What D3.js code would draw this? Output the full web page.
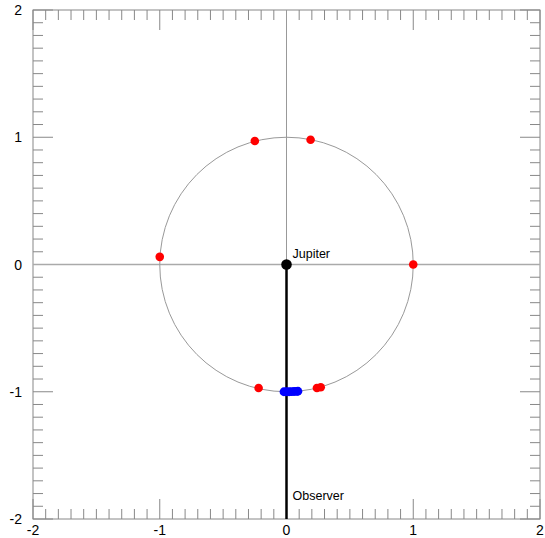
<!DOCTYPE html>
<html>
<head>
<meta charset="utf-8">
<script src="https://cdn.jsdelivr.net/npm/d3@7"></script>
<style>
  body { margin: 0; background: #fff; }
  text { font-family: "Liberation Sans", Arial, sans-serif; }
</style>
</head>
<body>
<div id="chart"></div>
<script>
var Width = 545, Height = 538;
var margin = {top: 10, right: 5, bottom: 19, left: 33},
    width = Width - margin.left - margin.right,
    height = Height - margin.top - margin.bottom;

// data
var tickLabels = [-2, -1, 0, 1, 2];
var moonX = [-0.25, 0.19, -1.0, 1.0, -0.22, 0.24, 0.27];
var moonY = [0.97, 0.98, 0.06, 0.0, -0.97, -0.97, -0.965];
var obsX = [-0.02, 0.0, 0.02, 0.04, 0.06, 0.08, 0.09];
var obsY = [-1.0, -1.0, -1.0, -0.999, -0.998, -0.997, -0.996];
var jupiter = {x: 0, y: 0, name: "Jupiter"};
var observer = {x: 0, y: -2, name: "Observer"};

var svg = d3.select("#chart").append("svg")
    .attr("width", Width).attr("height", Height)
  .append("g")
    .attr("transform", "translate(" + margin.left + "," + margin.top + ")");

var x = d3.scaleLinear().domain([-2, 2]).range([0, width]);
var y = d3.scaleLinear().domain([-2, 2]).range([height, 0]);

// minor ticks every 0.1, major every 1, pointing inward on all four sides
var ticks = d3.range(-20, 21).map(function(i) { return i / 10; });
var isMajor = function(v) { return Math.abs(v - Math.round(v)) < 1e-9; };
var tickLen = function(v) { return isMajor(v) ? 20 : 10; };
var axisColor = "#888";

var t = svg.append("g").attr("stroke", axisColor).attr("stroke-width", 1);
t.selectAll(".tb").data(ticks).enter().append("line")
  .attr("x1", function(d){ return x(d); }).attr("x2", function(d){ return x(d); })
  .attr("y1", height).attr("y2", function(d){ return height - tickLen(d); });
t.selectAll(".tt").data(ticks).enter().append("line")
  .attr("x1", function(d){ return x(d); }).attr("x2", function(d){ return x(d); })
  .attr("y1", 0).attr("y2", function(d){ return tickLen(d); });
t.selectAll(".tl").data(ticks).enter().append("line")
  .attr("y1", function(d){ return y(d); }).attr("y2", function(d){ return y(d); })
  .attr("x1", 0).attr("x2", function(d){ return tickLen(d); });
t.selectAll(".tr").data(ticks).enter().append("line")
  .attr("y1", function(d){ return y(d); }).attr("y2", function(d){ return y(d); })
  .attr("x1", width).attr("x2", function(d){ return width - tickLen(d); });

svg.append("rect").attr("width", width).attr("height", height)
  .attr("fill", "none").attr("stroke", axisColor).attr("stroke-width", 1);

// tick labels
svg.selectAll(".xl").data(tickLabels).enter().append("text")
  .attr("x", function(d){ return x(d); }).attr("y", height + 16)
  .attr("text-anchor", "middle").style("font-size", "14px")
  .text(function(d){ return d; });
svg.selectAll(".yl").data(tickLabels).enter().append("text")
  .attr("x", -11).attr("y", function(d){ return y(d) + 5; })
  .attr("text-anchor", "end").style("font-size", "14px")
  .text(function(d){ return d; });

// crosshair
svg.append("line").attr("x1", x(-2)).attr("x2", x(2)).attr("y1", y(0)).attr("y2", y(0))
  .attr("stroke", "#aaa").attr("stroke-width", 1.5);
svg.append("line").attr("x1", x(0)).attr("x2", x(0)).attr("y1", y(2)).attr("y2", y(0))
  .attr("stroke", "#999").attr("stroke-width", 1);

// orbit circle r = 1
svg.append("ellipse").attr("cx", x(0)).attr("cy", y(0))
  .attr("rx", x(1) - x(0)).attr("ry", y(0) - y(1))
  .attr("fill", "none").attr("stroke", "#999").attr("stroke-width", 1);

// line of sight to observer
svg.append("line").attr("x1", x(jupiter.x)).attr("x2", x(observer.x))
  .attr("y1", y(jupiter.y)).attr("y2", y(observer.y))
  .attr("stroke", "#000").attr("stroke-width", 2.5);

// moons
svg.selectAll(".moon").data(moonX).enter().append("circle")
  .attr("cx", function(d){ return x(d); })
  .attr("cy", function(d, i){ return y(moonY[i]); })
  .attr("r", 4.3).style("fill", "#f00");

svg.selectAll(".obs").data(obsX).enter().append("circle")
  .attr("cx", function(d){ return x(d); })
  .attr("cy", function(d, i){ return y(obsY[i]); })
  .attr("r", 4.4).style("fill", "#00f");

svg.append("circle").attr("cx", x(jupiter.x)).attr("cy", y(jupiter.y))
  .attr("r", 5.3).style("fill", "#000");

svg.append("text").attr("x", x(jupiter.x) + 6).attr("y", y(jupiter.y) - 7)
  .style("font-size", "12.5px").text(jupiter.name);
svg.append("text").attr("x", x(observer.x) + 6).attr("y", y(observer.y) - 19)
  .style("font-size", "12.5px").text(observer.name);
</script>
</body>
</html>
